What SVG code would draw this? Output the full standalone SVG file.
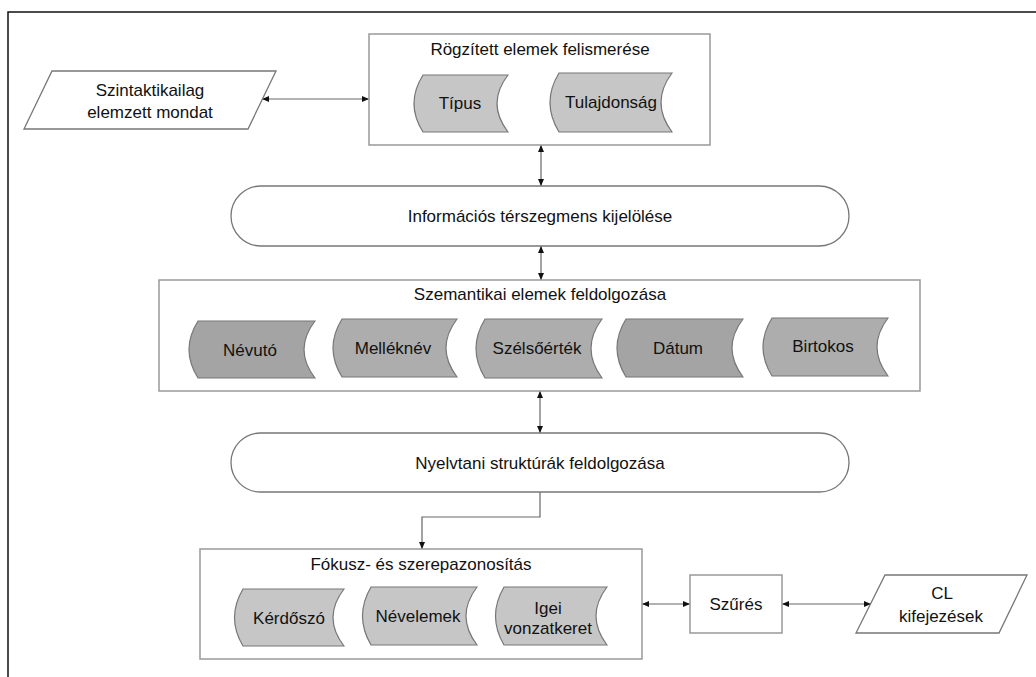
<svg xmlns="http://www.w3.org/2000/svg" width="1036" height="677" viewBox="0 0 1036 677">
<style>
text{font-family:"Liberation Sans",Arial,sans-serif;font-size:17px;fill:#111;text-anchor:middle}
.box{fill:#fff;stroke:#999;stroke-width:1.5}
.term{fill:#fff;stroke:#777;stroke-width:1.3}
.io{fill:#fff;stroke:#777;stroke-width:1.3}
.sd{stroke:#777;stroke-width:1.2}
.light{fill:#c6c6c6}
.dark{fill:#a4a4a4}
.mid{fill:#adadad}
.conn{fill:none;stroke:#666;stroke-width:1.2}
</style>
<defs>
<marker id="ah" markerUnits="userSpaceOnUse" markerWidth="8" markerHeight="8" refX="7" refY="4" orient="auto-start-reverse">
<path d="M0,1 L7,4 L0,7 Z" fill="#111"/>
</marker>
</defs>
<rect width="1036" height="677" fill="#fff"/>
<g id="frame">
<path d="M8,677 V12 H1036" fill="none" stroke="#111" stroke-width="1.5"/>
</g>
<g id="connectors">
<path class="conn" d="M262,99 H369" marker-start="url(#ah)" marker-end="url(#ah)"/>
<path class="conn" d="M541,145 V186" marker-start="url(#ah)" marker-end="url(#ah)"/>
<path class="conn" d="M541,246 V280" marker-start="url(#ah)" marker-end="url(#ah)"/>
<path class="conn" d="M540,391 V433" marker-start="url(#ah)" marker-end="url(#ah)"/>
<path class="conn" d="M540,492 V517 H422 V549" marker-end="url(#ah)"/>
<path class="conn" d="M642,604 H690" marker-start="url(#ah)" marker-end="url(#ah)"/>
<path class="conn" d="M782,604 H871" marker-start="url(#ah)" marker-end="url(#ah)"/>
</g>
<g id="input">
<path class="io" d="M52,71 H276 L248,129 H24 Z"/>
<text x="150" y="96">Szintaktikailag</text>
<text x="150" y="118">elemzett mondat</text>
</g>
<g id="rogzitett">
<rect class="box" x="369" y="34" width="341" height="111"/>
<text x="540" y="55">Rögzített elemek felismerése</text>
<g id="tipus">
<path class="sd light" d="M423,75 H508 Q486,103.5 508,132 H423 Q405,103.5 423,75 Z"/>
<text x="460" y="109">Típus</text>
</g>
<g id="tulajdonsag">
<path class="sd light" d="M559,73 H672 Q650,102.5 672,132 H559 Q541,102.5 559,73 Z"/>
<text x="611" y="108">Tulajdonság</text>
</g>
</g>
<g id="informacios">
<rect class="term" x="231" y="186" width="618" height="60" rx="30" ry="30"/>
<text x="540" y="222">Információs térszegmens kijelölése</text>
</g>
<g id="szemantikai">
<rect class="box" x="159" y="280" width="761" height="111"/>
<text x="540" y="300">Szemantikai elemek feldolgozása</text>
<g id="nevuto">
<path class="sd dark" d="M198,321 H315 Q293,349.5 315,378 H198 Q180,349.5 198,321 Z"/>
<text x="250" y="356">Névutó</text>
</g>
<g id="mellekney">
<path class="sd mid" d="M342,319 H457 Q435,348 457,377 H342 Q324,348 342,319 Z"/>
<text x="393" y="354">Melléknév</text>
</g>
<g id="szelsoertek">
<path class="sd mid" d="M485,319 H602 Q580,348.5 602,378 H485 Q467,348.5 485,319 Z"/>
<text x="537" y="354">Szélsőérték</text>
</g>
<g id="datum">
<path class="sd dark" d="M626,319 H743 Q721,348 743,377 H626 Q608,348 626,319 Z"/>
<text x="678" y="354">Dátum</text>
</g>
<g id="birtokos">
<path class="sd mid" d="M772,318 H888 Q866,347 888,376 H772 Q754,347 772,318 Z"/>
<text x="823" y="352">Birtokos</text>
</g>
</g>
<g id="nyelvtani">
<rect class="term" x="231" y="433" width="618" height="59" rx="29.5" ry="29.5"/>
<text x="540" y="469">Nyelvtani struktúrák feldolgozása</text>
</g>
<g id="fokusz">
<rect class="box" x="200" y="549" width="442" height="110"/>
<text x="421" y="570">Fókusz- és szerepazonosítás</text>
<g id="kerdoszo">
<path class="sd light" d="M243,589 H344 Q322,617.5 344,646 H243 Q226,617.5 243,589 Z"/>
<text x="289" y="624">Kérdőszó</text>
</g>
<g id="nevelemek">
<path class="sd light" d="M371,587 H477 Q455,616 477,645 H371 Q354,616 371,587 Z"/>
<text x="418" y="622">Névelemek</text>
</g>
<g id="igei">
<path class="sd light" d="M504,587 H607 Q585,616 607,645 H504 Q487,616 504,587 Z"/>
<text x="548" y="614">Igei</text>
<text x="548" y="634">vonzatkeret</text>
</g>
</g>
<g id="szures">
<rect class="box" x="690" y="575" width="92" height="58"/>
<text x="736" y="610">Szűrés</text>
</g>
<g id="cl">
<path class="io" d="M885,575 H1027 L999,633 H856 Z"/>
<text x="942" y="599">CL</text>
<text x="941" y="622">kifejezések</text>
</g>
</svg>
